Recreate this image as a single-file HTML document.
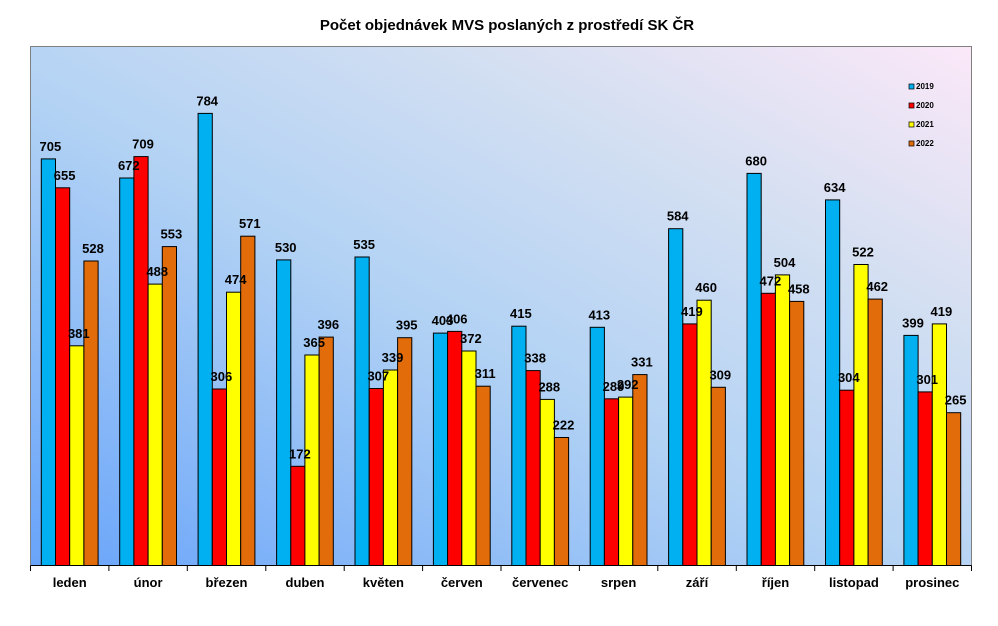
<!DOCTYPE html>
<html><head><meta charset="utf-8"><style>
html,body{margin:0;padding:0;background:#fff;}
svg{display:block;font-family:"Liberation Sans",Arial,sans-serif;}
</style></head><body>
<svg id="c" width="998" height="626" viewBox="0 0 998 626" xmlns="http://www.w3.org/2000/svg">
<defs>
<linearGradient id="bg" x1="0" y1="1" x2="1" y2="0">
<stop offset="0" stop-color="#68a4fa"/>
<stop offset="0.45" stop-color="#b2d2f4"/>
<stop offset="0.75" stop-color="#d6e0f2"/>
<stop offset="1" stop-color="#fbe8f8"/>
</linearGradient>
</defs>
<text x="507" y="30" text-anchor="middle" font-size="15" font-weight="bold">Počet objednávek MVS poslaných z prostředí SK ČR</text>
<rect x="30.5" y="46.5" width="941" height="519" fill="url(#bg)" stroke="#808080" stroke-width="1"/>
<g id="bars"></g>
<g font-size="8" font-weight="bold" fill="#000">
<rect x="909" y="84" width="5" height="5" fill="#00b0f0" stroke="#000" stroke-width="0.7"/><text x="916" y="89">2019</text>
<rect x="909" y="103" width="5" height="5" fill="#ff0000" stroke="#000" stroke-width="0.7"/><text x="916" y="108">2020</text>
<rect x="909" y="122" width="5" height="5" fill="#ffff00" stroke="#000" stroke-width="0.7"/><text x="916" y="127">2021</text>
<rect x="909" y="141" width="5" height="5" fill="#e36c0a" stroke="#000" stroke-width="0.7"/><text x="916" y="146">2022</text>
</g>
</svg>
<script>
var months=["leden","únor","březen","duben","květen","červen","červenec","srpen","září","říjen","listopad","prosinec"];
var d=[[705,655,381,528],[672,709,488,553],[784,306,474,571],[530,172,365,396],[535,307,339,395],[403,406,372,311],[415,338,288,222],[413,289,292,331],[584,419,460,309],[680,472,504,458],[634,304,522,462],[399,301,419,265]];
var cols=["#00b0f0","#ff0000","#ffff00","#e36c0a"];
var x0=30.5,cw=941/12,bw=14.2,base=565.5,sc=519/900;
var s="";
for(var i=0;i<12;i++){
 var gx=x0+i*cw+10.8;
 for(var j=0;j<4;j++){
  var v=d[i][j],h=v*sc,x=gx+j*bw,y=base-h;
  s+='<rect x="'+x.toFixed(1)+'" y="'+y.toFixed(1)+'" width="'+bw+'" height="'+h.toFixed(1)+'" fill="'+cols[j]+'" stroke="#000" stroke-width="1"/>';
 }
 for(var j=0;j<4;j++){
  var v=d[i][j],y=base-v*sc,x=gx+j*bw+bw/2+2;
  s+='<text x="'+x.toFixed(1)+'" y="'+(y-8).toFixed(1)+'" text-anchor="middle" font-size="13" font-weight="bold">'+v+'</text>';
 }
 s+='<line x1="'+(x0+i*cw).toFixed(1)+'" y1="565.5" x2="'+(x0+i*cw).toFixed(1)+'" y2="571" stroke="#000"/>';
 s+='<text x="'+(x0+i*cw+cw/2).toFixed(1)+'" y="587" text-anchor="middle" font-size="13" font-weight="bold">'+months[i]+'</text>';
}
s+='<line x1="30.5" y1="565.5" x2="971.5" y2="565.5" stroke="#000"/>';
s+='<line x1="971.5" y1="565.5" x2="971.5" y2="571" stroke="#000"/>';
document.getElementById("bars").innerHTML=s;
</script>
</body></html>
